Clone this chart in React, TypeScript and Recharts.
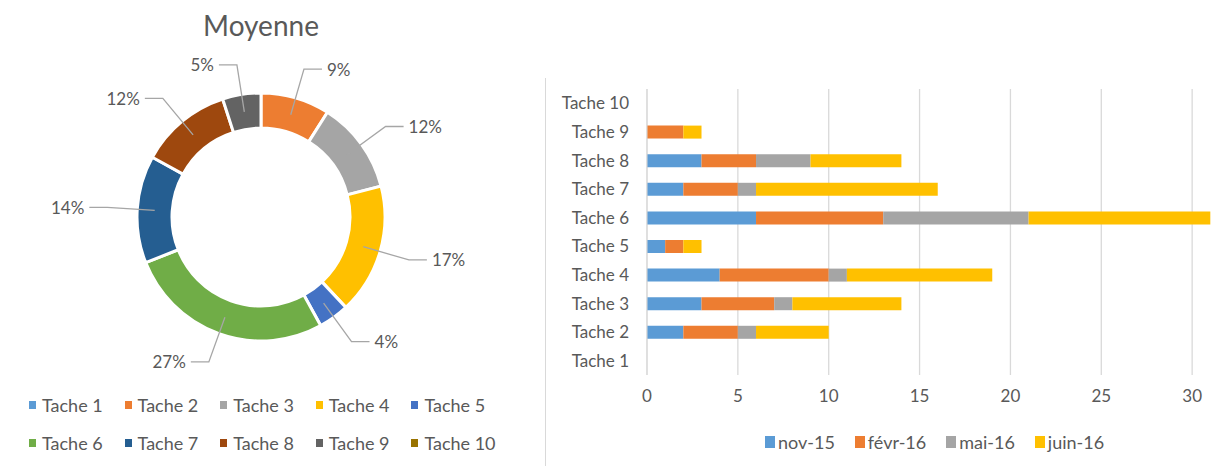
import React from 'react';
import { PieChart, Pie, Cell, BarChart, Bar, XAxis, YAxis, CartesianGrid, Legend } from 'recharts';

const taches = ['Tache 1', 'Tache 2', 'Tache 3', 'Tache 4', 'Tache 5', 'Tache 6', 'Tache 7', 'Tache 8', 'Tache 9', 'Tache 10'];
const pieValues = [0, 9, 12, 17, 4, 27, 14, 12, 5, 0];
const pieColors = ['#5B9BD5', '#ED7D31', '#A5A5A5', '#FFC000', '#4472C4', '#70AD47', '#255E91', '#9E480E', '#636363', '#997300'];

const periods = ['nov-15', 'févr-16', 'mai-16', 'juin-16'];
const periodColors = ['#5B9BD5', '#ED7D31', '#A5A5A5', '#FFC000'];
const nov15 = [0, 2, 3, 4, 1, 6, 2, 3, 0, 0];
const fevr16 = [0, 3, 4, 6, 1, 7, 3, 3, 2, 0];
const mai16 = [0, 1, 1, 1, 0, 8, 1, 3, 0, 0];
const juin16 = [0, 4, 6, 8, 1, 10, 10, 5, 1, 0];
const xTicks = [0, 5, 10, 15, 20, 25, 30];

const pieData = taches.map((name, i) => ({ name, value: pieValues[i] }));
const series = [nov15, fevr16, mai16, juin16];
const barData = taches.map((name, i) => {
  const row: any = { name };
  periods.forEach((p, j) => { row[p] = series[j][i]; });
  return row;
});

const FONT = 'Lato, "Open Sans", sans-serif';
const TEXT = '#595959';
const RAD = Math.PI / 180;

const renderPieLabel = (props: any) => {
  const { cx, cy, midAngle, innerRadius, outerRadius, value, percent } = props;
  if (!value) return null;
  const r1 = (innerRadius + outerRadius) / 2;
  const r2 = outerRadius + 30;
  const cos = Math.cos(-midAngle * RAD);
  const sin = Math.sin(-midAngle * RAD);
  const x1 = cx + r1 * cos;
  const y1 = cy + r1 * sin;
  const x2 = cx + r2 * cos;
  const y2 = cy + r2 * sin;
  const dir = cos >= 0 ? 1 : -1;
  const x3 = x2 + dir * 18;
  return (
    <g>
      <polyline points={`${x1},${y1} ${x2},${y2} ${x3},${y2}`} fill="none" stroke="#A6A6A6" strokeWidth={1.3} />
      <text x={x3 + dir * 5} y={y2} textAnchor={dir > 0 ? 'start' : 'end'} dominantBaseline="central"
        fill={TEXT} fontSize={17} fontFamily={FONT}>
        {`${Math.round(percent * 100)}%`}
      </text>
    </g>
  );
};

const PieLegend = () => (
  <div style={{ display: 'flex', flexWrap: 'wrap', width: 480, fontFamily: FONT, fontSize: 18, color: TEXT }}>
    {taches.map((t, i) => (
      <div key={t} style={{ width: 95.6, height: 38, display: 'flex', alignItems: 'center' }}>
        <span style={{ width: 7, height: 8, background: pieColors[i], marginRight: 6, display: 'inline-block' }} />
        <span>{t}</span>
      </div>
    ))}
  </div>
);

const BarLegend = () => (
  <div style={{ display: 'flex', fontFamily: FONT, fontSize: 18, color: TEXT }}>
    {periods.map((p, i) => (
      <div key={p} style={{ display: 'flex', alignItems: 'center', marginRight: 20 }}>
        <span style={{ width: 10, height: 12, background: periodColors[i], marginRight: 3, display: 'inline-block' }} />
        <span>{p}</span>
      </div>
    ))}
  </div>
);

export default function App() {
  return (
    <div style={{ position: 'fixed', left: 0, top: 0, width: 1228, height: 466, overflow: 'hidden', background: '#fff', fontFamily: FONT }}>
      <div style={{ position: 'absolute', left: 0, width: 522, top: 8, textAlign: 'center', fontSize: 28, color: TEXT }}>Moyenne</div>
      <div style={{ position: 'absolute', left: 0, top: 0 }}>
        <PieChart width={540} height={466} margin={{ top: 0, right: 0, bottom: 0, left: 0 }}>
          <Pie data={pieData} dataKey="value" nameKey="name" cx={261} cy={217}
            innerRadius={89} outerRadius={124} startAngle={90} endAngle={-270}
            stroke="#fff" strokeWidth={3} label={renderPieLabel} labelLine={false}
            isAnimationActive={false}>
            {pieData.map((d, i) => <Cell key={d.name} fill={pieColors[i]} />)}
          </Pie>
          <Legend content={<PieLegend />} wrapperStyle={{ left: 29, top: 386, width: 500, bottom: 'auto' }} />
        </PieChart>
      </div>
      <div style={{ position: 'absolute', left: 545, top: 78, width: 1, height: 400, background: '#D9D9D9' }} />
      <div style={{ position: 'absolute', left: 545, top: 0 }}>
        <BarChart width={738} height={466} layout="vertical" data={barData}
          margin={{ top: 89, right: 0, bottom: 39, left: 0 }} barSize={13}>
          <CartesianGrid horizontal={false} stroke="#D9D9D9" strokeWidth={1.3} />
          <XAxis type="number" domain={[0, 35]} ticks={xTicks} axisLine={false} tickLine={false}
            tickSize={6} tickMargin={9} tick={{ fill: TEXT, fontSize: 17, fontFamily: FONT }} interval={0} height={30} />
          <YAxis type="category" dataKey="name" reversed width={102} axisLine={{ stroke: '#D9D9D9' }} tickLine={false}
            tickSize={6} tickMargin={12} interval={0} tick={{ fill: TEXT, fontSize: 17, fontFamily: FONT }} />
          {periods.map((p, i) => (
            <Bar key={p} dataKey={p} stackId="a" fill={periodColors[i]} isAnimationActive={false} />
          ))}
          <Legend content={<BarLegend />} wrapperStyle={{ left: 220, top: 431, width: 400, bottom: 'auto' }} />
        </BarChart>
      </div>
    </div>
  );
}
